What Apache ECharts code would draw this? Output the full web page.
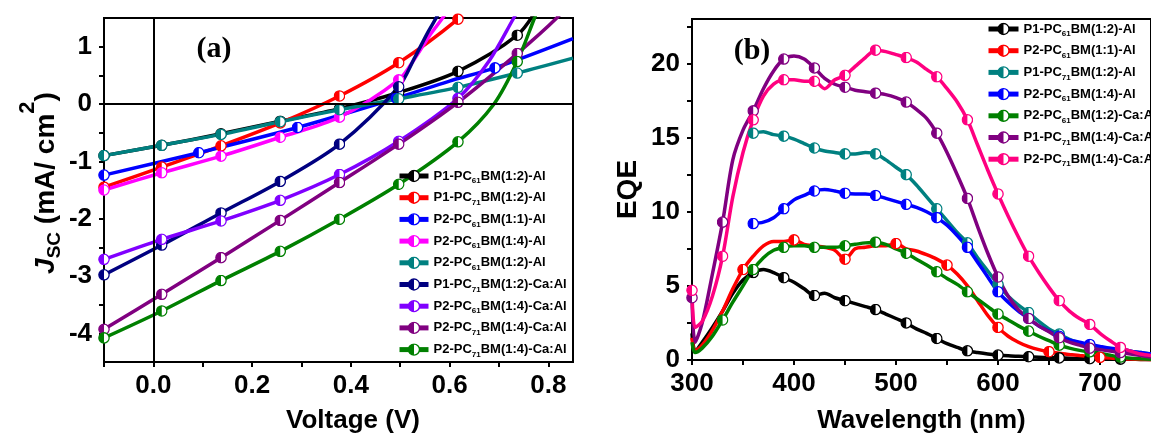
<!DOCTYPE html>
<html>
<head>
<meta charset="utf-8">
<script src="https://cdn.jsdelivr.net/npm/echarts@6/dist/echarts.min.js"></script>
<style>
  html, body { margin: 0; padding: 0; background: #fff; }
  #chart { width: 1151px; height: 439px; }
</style>
</head>
<body>
<div id="chart"></div>
<script>
const FONT = '"Liberation Sans", Arial, sans-serif';

// ---------- Panel (a): J–V curves, points are [voltage (V), J (mA/cm2)] ----------
const jvKeys = ['jv1', 'jv2', 'jv3', 'jv4', 'jv5', 'jv6', 'jv7', 'jv8', 'jv9'];
const jvLabels = [
  'P1-PC{s|61}BM(1:2)-Al',
  'P1-PC{s|71}BM(1:2)-Al',
  'P2-PC{s|61}BM(1:1)-Al',
  'P2-PC{s|61}BM(1:4)-Al',
  'P2-PC{s|61}BM(1:2)-Al',
  'P1-PC{s|71}BM(1:2)-Ca:Al',
  'P2-PC{s|61}BM(1:4)-Ca:Al',
  'P2-PC{s|71}BM(1:4)-Ca:Al',
  'P2-PC{s|71}BM(1:4)-Ca:Al'
];
const jvColors = ['#000000', '#ff0000', '#0000ff', '#ff00ff', '#008080', '#000080', '#8000ff', '#800080', '#008000'];

const jvP1PC61Al   = [[-0.1,-0.9],[0.017,-0.72],[0.137,-0.52],[0.257,-0.3],[0.377,-0.08],[0.497,0.2],[0.617,0.57],[0.737,1.2],[0.78,1.7]];
const jvP1PC71Al   = [[-0.1,-1.45],[0.017,-1.1],[0.137,-0.73],[0.257,-0.33],[0.377,0.14],[0.497,0.72],[0.617,1.48],[0.65,1.8]];
const jvP2PC61_11  = [[-0.1,-1.24],[0.092,-0.85],[0.292,-0.41],[0.492,0.1],[0.6,0.4],[0.692,0.63],[0.85,1.14]];
const jvP2PC61_14  = [[-0.1,-1.5],[0.017,-1.2],[0.137,-0.91],[0.257,-0.58],[0.377,-0.23],[0.497,0.42],[0.53,0.8],[0.56,1.2],[0.59,1.55],[0.61,1.85]];
const jvP2PC61_12  = [[-0.1,-0.9],[0.017,-0.72],[0.137,-0.53],[0.257,-0.31],[0.377,-0.1],[0.497,0.09],[0.617,0.29],[0.737,0.54],[0.85,0.8]];
const jvP1PC71Ca   = [[-0.1,-2.98],[0.017,-2.46],[0.137,-1.9],[0.257,-1.35],[0.377,-0.7],[0.497,0.3],[0.53,0.82],[0.556,1.25],[0.576,1.55],[0.6,1.95]];
const jvP2PC61Ca   = [[-0.1,-2.71],[0.017,-2.36],[0.137,-2.04],[0.257,-1.68],[0.377,-1.23],[0.497,-0.65],[0.617,0.1],[0.68,0.75],[0.73,1.5],[0.75,1.8]];
const jvP2PC71CaA  = [[-0.1,-3.93],[0.017,-3.32],[0.137,-2.68],[0.257,-2.03],[0.377,-1.37],[0.497,-0.7],[0.617,0.03],[0.737,0.88],[0.817,1.5],[0.84,1.75]];
const jvP2PC71CaB  = [[-0.1,-4.08],[0.017,-3.61],[0.137,-3.08],[0.257,-2.57],[0.377,-2.01],[0.497,-1.4],[0.617,-0.66],[0.69,0.0],[0.737,0.74],[0.772,1.5],[0.79,1.9]];
const jvData = [jvP1PC61Al, jvP1PC71Al, jvP2PC61_11, jvP2PC61_14, jvP2PC61_12, jvP1PC71Ca, jvP2PC61Ca, jvP2PC71CaA, jvP2PC71CaB];

// voltages at which a symbol is placed
const jvMarkV = [-0.1, 0.017, 0.137, 0.257, 0.377, 0.497, 0.617, 0.737];
const jvMarkVAlt = [-0.1, 0.092, 0.292, 0.492, 0.692];
const jvMarks = [jvMarkV, jvMarkV, jvMarkVAlt, jvMarkV, jvMarkV, jvMarkV, jvMarkV, jvMarkV, jvMarkV];

// ---------- Panel (b): EQE spectra ----------
const eqeKeys = ['eqe1', 'eqe2', 'eqe3', 'eqe4', 'eqe5', 'eqe6', 'eqe7'];
const eqeLabels = [
  'P1-PC{s|61}BM(1:2)-Al',
  'P2-PC{s|61}BM(1:1)-Al',
  'P1-PC{s|71}BM(1:2)-Al',
  'P2-PC{s|61}BM(1:4)-Al',
  'P2-PC{s|61}BM(1:2)-Ca:Al',
  'P1-PC{s|71}BM(1:4)-Ca:Al',
  'P2-PC{s|71}BM(1:4)-Ca:Al'
];
const eqeColors = ['#000000', '#ff0000', '#008080', '#0000ff', '#008000', '#800080', '#ff0080'];

const wavelength = [300,303,310,320,330,340,350,360,370,380,390,400,410,420,430,440,450,460,470,480,490,500,
  510,520,530,540,550,560,570,580,590,600,610,620,630,640,650,660,670,680,690,700,710,720,730,740,750];

const eqeP1PC61Al = [1.8,0.6,1.2,2.2,3.3,4.5,5.4,5.9,6.1,5.9,5.55,5.25,4.8,4.35,4.5,4.2,4.0,3.8,3.6,3.4,3.1,2.8,
  2.5,2.1,1.8,1.45,1.1,0.85,0.62,0.5,0.4,0.33,0.28,0.25,0.22,0.19,0.16,0.14,0.12,0.1,0.09,0.08,0.07,0.06,0.05,0.04,0.03];
const eqeP2PC61_11 = [1.5,0.6,1.0,2.0,3.3,4.8,6.1,7.0,7.7,8.0,8.0,8.1,7.8,7.7,7.6,7.4,6.8,7.5,7.6,7.7,7.7,7.85,
  7.5,7.35,7.1,6.8,6.4,5.8,5.0,4.0,3.0,2.2,1.6,1.2,0.9,0.7,0.56,0.45,0.37,0.3,0.24,0.18,0.13,0.09,0.06,0.04,0.02];
const eqeP1PC71Al = [null,null,null,null,null,null,null,15.3,15.4,15.2,15.1,14.9,14.6,14.3,14.1,14.0,13.9,13.9,14.0,13.9,13.5,13.0,
  12.5,11.8,11.0,10.2,9.4,8.6,7.9,6.9,6.0,5.1,4.3,3.7,3.2,2.6,2.1,1.75,1.4,1.15,0.96,0.85,0.78,0.73,0.6,0.5,0.4];
const eqeP2PC61_14 = [null,null,null,null,null,null,null,9.2,9.3,9.6,10.2,10.8,11.1,11.4,11.5,11.4,11.25,11.2,11.2,11.1,10.9,10.7,
  10.5,10.3,10.0,9.6,9.1,8.4,7.6,6.6,5.6,4.6,3.9,3.3,2.8,2.3,1.95,1.6,1.35,1.2,1.05,0.92,0.8,0.72,0.6,0.5,0.4];
const eqeP2PC61Ca = [1.2,0.5,0.8,1.6,2.7,3.9,5.0,6.1,6.9,7.4,7.6,7.7,7.7,7.6,7.6,7.6,7.7,7.8,7.9,7.95,7.8,7.5,
  7.2,6.8,6.4,5.95,5.5,5.1,4.6,4.1,3.6,3.1,2.7,2.3,1.95,1.6,1.3,1.0,0.8,0.65,0.55,0.45,0.32,0.2,0.12,0.08,0.05];
const eqeP1PC71Ca = [4.2,1.2,2.5,5.8,9.3,13.5,15.5,16.8,18.3,19.5,20.3,20.5,20.3,19.7,19.0,18.6,18.4,18.2,18.1,18.0,17.9,17.7,
  17.4,16.9,16.3,15.3,14.0,12.5,10.9,9.0,7.2,5.6,4.3,3.4,2.8,2.3,1.9,1.5,1.2,1.0,0.8,0.7,0.6,0.5,0.4,0.3,0.2];
const eqeP2PC71Ca = [4.7,2.2,2.6,4.3,7.0,11.0,14.0,16.2,17.8,18.6,18.9,18.9,18.8,18.8,18.3,18.9,19.2,19.8,20.4,20.9,20.8,20.6,
  20.4,20.1,19.6,19.1,18.3,17.4,16.2,14.5,12.8,11.2,9.7,8.3,7.0,5.9,4.9,4.0,3.3,2.8,2.4,1.8,1.3,0.85,0.6,0.4,0.3];
const eqeData = [eqeP1PC61Al, eqeP2PC61_11, eqeP1PC71Al, eqeP2PC61_14, eqeP2PC61Ca, eqeP1PC71Ca, eqeP2PC71Ca];

// wavelengths at which a symbol is placed
const every30 = [360,390,420,450,480,510,540,570,600,630,660,690,720];
const eqeMarks = [
  every30,
  [350,400,450,500,550,600,650,700],
  every30,
  every30,
  [330].concat(every30),
  [300,330].concat(every30),
  [300,330].concat(every30)
];

// ---------- helpers ----------
// half-filled circle: coloured left half, white right half
function halfDot(color) {
  const svg = '<svg xmlns="http://www.w3.org/2000/svg" width="24" height="24" viewBox="0 0 24 24">' +
    '<circle cx="12" cy="12" r="10.3" fill="#ffffff" stroke="' + color + '" stroke-width="2.6"/>' +
    '<path d="M12 1.7 A10.3 10.3 0 0 0 12 22.3 Z" fill="' + color + '"/></svg>';
  return 'image://data:image/svg+xml;charset=utf-8,' + encodeURIComponent(svg);
}

function makeSeries(key, color, pts, marks, axis, smooth) {
  const dot = halfDot(color);
  return {
    name: key,
    type: 'line',
    xAxisIndex: axis,
    yAxisIndex: axis,
    smooth: smooth,
    symbol: dot,
    symbolSize: 12,
    showAllSymbol: true,
    clip: true,
    lineStyle: { color: color, width: 3.5 },
    itemStyle: { color: color },
    emphasis: { disabled: true },
    data: pts.map(p => ({
      value: p,
      symbol: marks.some(m => Math.abs(m - p[0]) < 1e-6) ? dot : 'none'
    }))
  };
}

const labelOf = {};
jvKeys.forEach((k, i) => { labelOf[k] = jvLabels[i]; });
eqeKeys.forEach((k, i) => { labelOf[k] = eqeLabels[i]; });

const series = [];
jvKeys.forEach((k, i) => series.push(makeSeries(k, jvColors[i], jvData[i], jvMarks[i], 0, 0.3)));
eqeKeys.forEach((k, i) => {
  const pts = [];
  wavelength.forEach((w, j) => { if (eqeData[i][j] != null) pts.push([w, eqeData[i][j]]); });
  series.push(makeSeries(k, eqeColors[i], pts, eqeMarks[i], 1, 0.3));
});

// zero reference lines in panel (a)
series[0].markLine = {
  silent: true,
  symbol: 'none',
  label: { show: false },
  lineStyle: { color: '#000', width: 2, type: 'solid' },
  data: [{ xAxis: 0 }, { yAxis: 0 }]
};

const tickLabel = { color: '#000', fontFamily: FONT, fontWeight: 'bold', fontSize: 26 };
const legendText = {
  fontFamily: FONT, fontWeight: 'bold', fontSize: 13, color: '#000', lineHeight: 18,
  rich: { s: { fontFamily: FONT, fontWeight: 'bold', fontSize: 8, color: '#000', padding: [10, 0, 0, 0] } }
};
const axisLine = { show: true, onZero: false, lineStyle: { color: '#000', width: 2 } };
const axisTick = { show: true, inside: false, length: 5, lineStyle: { color: '#000', width: 2 } };

const option = {
  animation: false,
  backgroundColor: '#ffffff',
  grid: [
    { left: 104, top: 18, width: 469, height: 345, show: true, borderColor: '#000', borderWidth: 2, containLabel: false },
    { left: 692, top: 19, width: 468, height: 345, show: true, borderColor: '#000', borderWidth: 2, containLabel: false }
  ],
  xAxis: [
    {
      type: 'value', gridIndex: 0, min: -0.1, max: 0.85, interval: 0.1,
      name: 'Voltage (V)', nameLocation: 'middle', nameGap: 46,
      nameTextStyle: { color: '#000', fontFamily: FONT, fontWeight: 'bold', fontSize: 26, padding: [0, 0, 0, 29] },
      axisLine: axisLine, axisTick: axisTick, splitLine: { show: false },
      axisLabel: Object.assign({}, tickLabel, {
        margin: 11, showMaxLabel: false,
        formatter: v => (Math.abs(Math.round(v * 10)) % 2 === 0 ? v.toFixed(1) : '')
      })
    },
    {
      type: 'value', gridIndex: 1, min: 300, max: 750, interval: 50,
      name: 'Wavelength (nm)', nameLocation: 'middle', nameGap: 48,
      nameTextStyle: { color: '#000', fontFamily: FONT, fontWeight: 'bold', fontSize: 26 },
      axisLine: axisLine, axisTick: axisTick, splitLine: { show: false },
      axisLabel: Object.assign({}, tickLabel, {
        margin: 11, showMaxLabel: false,
        formatter: v => (Math.round(v) % 100 === 0 ? String(Math.round(v)) : '')
      })
    }
  ],
  yAxis: [
    {
      type: 'value', gridIndex: 0, min: -4.5, max: 1.5, interval: 0.5,
      name: '{j|J}{sub|SC} (mA/ cm{sup|2})', nameLocation: 'middle', nameRotate: 90, nameGap: 29,
      nameTextStyle: {
        color: '#000', fontFamily: FONT, fontWeight: 'bold', fontSize: 28, padding: [0, 0, 0, 14],
        rich: {
          j: { fontFamily: FONT, fontWeight: 'bold', fontStyle: 'italic', fontSize: 28, color: '#000' },
          sub: { fontFamily: FONT, fontWeight: 'bold', fontSize: 19, color: '#000', padding: [18, 0, 0, 0] },
          sup: { fontFamily: FONT, fontWeight: 'bold', fontSize: 22, color: '#000', padding: [0, 0, 36, 0] }
        }
      },
      axisLine: axisLine, axisTick: axisTick, splitLine: { show: false },
      axisLabel: Object.assign({}, tickLabel, {
        margin: 12, showMaxLabel: false, showMinLabel: false,
        formatter: v => (Math.abs(v - Math.round(v)) < 1e-6 ? String(Math.round(v)) : '')
      })
    },
    {
      type: 'value', gridIndex: 1, min: 0, max: 23, interval: 2.5,
      name: 'EQE', nameLocation: 'middle', nameRotate: 90, nameGap: 50,
      nameTextStyle: { color: '#000', fontFamily: FONT, fontWeight: 'bold', fontSize: 28 },
      axisLine: axisLine, axisTick: axisTick, splitLine: { show: false },
      axisLabel: Object.assign({}, tickLabel, {
        margin: 12, showMaxLabel: false,
        formatter: v => (Math.abs(v % 5) < 1e-6 ? String(Math.round(v)) : '')
      })
    }
  ],
  legend: [
    {
      data: jvKeys, orient: 'vertical', left: 392, top: 162,
      itemWidth: 29, itemHeight: 16, itemGap: 3.7,
      lineStyle: { width: 5 },
      selectedMode: false,
      formatter: name => labelOf[name],
      textStyle: legendText
    },
    {
      data: eqeKeys, orient: 'vertical', left: 981, top: 15,
      itemWidth: 30, itemHeight: 16, itemGap: 3.7,
      lineStyle: { width: 5 },
      selectedMode: false,
      formatter: name => labelOf[name],
      textStyle: legendText
    }
  ],
  graphic: [
    { type: 'text', x: 214, y: 49, style: { text: '(a)', font: 'bold 30px "Liberation Serif", "Times New Roman", serif', fill: '#000', align: 'center', verticalAlign: 'middle' } },
    { type: 'text', x: 752, y: 51, style: { text: '(b)', font: 'bold 30px "Liberation Serif", "Times New Roman", serif', fill: '#000', align: 'center', verticalAlign: 'middle' } }
  ],
  series: series
};

const chart = echarts.init(document.getElementById('chart'), null, { renderer: 'canvas' });
chart.setOption(option);
</script>
</body>
</html>
